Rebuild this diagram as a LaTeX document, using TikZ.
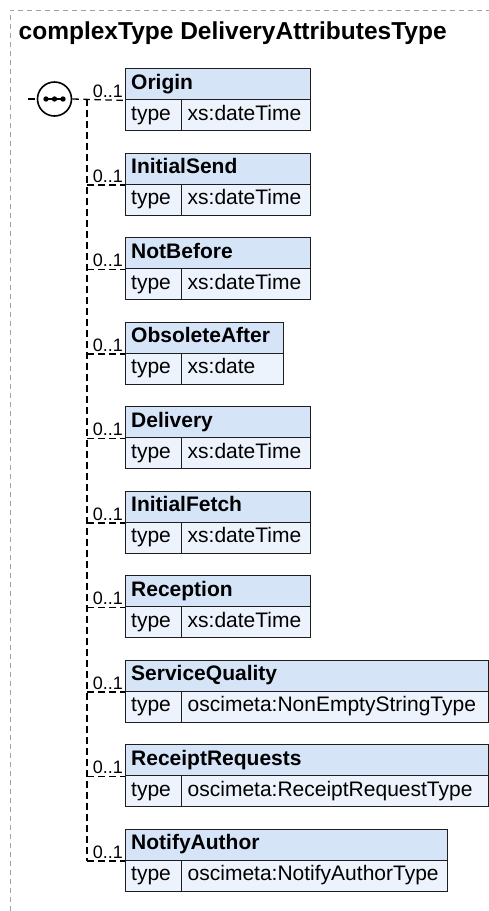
\documentclass[tikz,border=0pt]{standalone}
\usepackage{fontspec}
\setmainfont{Liberation Sans}
\definecolor{hdrc}{HTML}{D6E4F8}
\definecolor{rowc}{HTML}{EDF3FC}
\definecolor{bordc}{HTML}{1E1E1E}
\definecolor{framec}{HTML}{A0A0A0}
\begin{document}
\begin{tikzpicture}[x=1pt,y=-1pt,
  cell/.style={draw=bordc, line width=1.4pt, anchor=north west, minimum height=31pt,
    inner xsep=6pt, inner ysep=0pt, align=left, text height=15pt, text depth=4.5pt},
  hdr/.style={cell, fill=hdrc, font=\fontsize{21}{24}\selectfont\bfseries},
  typ/.style={cell, fill=rowc, font=\fontsize{21}{24}\selectfont, text width=44.5pt},
  val/.style={cell, fill=rowc, font=\fontsize{21}{24}\selectfont},
  conn/.style={draw=black, line width=1.3pt, dash pattern=on 6.5pt off 4.5pt},
  mult/.style={anchor=base east, inner sep=0pt, font=\fontsize{18}{20}\selectfont},
  outer/.style={draw=framec, line width=1pt, dash pattern=on 5pt off 4pt}
]
\useasboundingbox (0,0) rectangle (489,911);
\draw[outer] (10,911) -- (10,10) -- (489,10);
\node[anchor=base west, inner sep=0pt, font=\fontsize{24.5}{28}\selectfont\bfseries] (title) at (18.5,39) {complexType DeliveryAttributesType};

% sequence compositor
\coordinate (in) at (28,99);
\node[circle, draw=black, fill=white, line width=1.6pt, minimum size=34pt, inner sep=0pt] (seq) at (54.5,99) {};
\draw[line width=1.4pt] ([xshift=-9pt]seq.center) -- ([xshift=9pt]seq.center);
\fill ([xshift=-8.5pt]seq.center) circle (2.7);
\fill (seq.center) circle (2.7);
\fill ([xshift=8.5pt]seq.center) circle (2.7);
\draw[conn] (in) -- (seq.west);
\coordinate (trunk) at (87,99);

% #1 name, #2 top, #3 label, #4 value, #5 header text width, #6 value text width
\newcommand\xelem[6]{%
  \node[hdr, text width=#5pt] (#1) at (124.5,#2) {#3};
  \node[typ] (#1t) at (124.5,#2+31) {type};
  \node[val, text width=#6pt] (#1v) at (181,#2+31) {#4};
  \node[mult] (#1m) at (123,#2+29.5) {0..1};
}

\xelem{Origin}{68}{Origin}{xs:dateTime}{173.5}{117}
\xelem{InitialSend}{152.5}{InitialSend}{xs:dateTime}{173.5}{117}
\xelem{NotBefore}{237}{NotBefore}{xs:dateTime}{173.5}{117}
\xelem{ObsoleteAfter}{321.5}{ObsoleteAfter}{xs:date}{146}{89.5}
\xelem{Delivery}{406}{Delivery}{xs:dateTime}{173.5}{117}
\xelem{InitialFetch}{490.5}{InitialFetch}{xs:dateTime}{173.5}{117}
\xelem{Reception}{575}{Reception}{xs:dateTime}{173.5}{117}
\xelem{ServiceQuality}{659.5}{ServiceQuality}{oscimeta:NonEmptyStringType}{351}{294.5}
\xelem{ReceiptRequests}{744}{ReceiptRequests}{oscimeta:ReceiptRequestType}{351}{294.5}
\xelem{NotifyAuthor}{828.5}{NotifyAuthor}{oscimeta:NotifyAuthorType}{310.5}{254}

\draw[conn] (seq.east) -- (Origin.south west);
\draw[conn] (trunk) -- (trunk |- NotifyAuthor.south west);
\foreach \e in {InitialSend,NotBefore,ObsoleteAfter,Delivery,InitialFetch,Reception,ServiceQuality,ReceiptRequests,NotifyAuthor}
  \draw[conn] (trunk |- \e.south west) -- (\e.south west);
\end{tikzpicture}
\end{document}
